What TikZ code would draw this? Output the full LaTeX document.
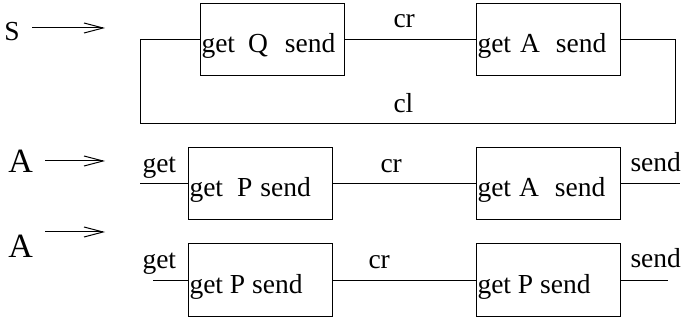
\documentclass[tikz,border=0pt]{standalone}
\usepackage{fontspec}
\setmainfont{Liberation Serif}
\usetikzlibrary{arrows.meta}
\begin{document}
\begin{tikzpicture}[x=1pt,y=-1pt,line width=1pt,
  procbox/.style={draw,rectangle,minimum width=144pt,minimum height=72pt,inner sep=0pt},
  txt/.style={inner sep=0pt,anchor=base west,font=\fontsize{27.5}{32}\selectfont},
  big/.style={inner sep=0pt,anchor=base west,font=\fontsize{34}{40}\selectfont},
  inarrow/.style={-{Straight Barb[length=19pt,width=10pt]}}]
\useasboundingbox (0,0) rectangle (682,320);
% Row 1
\node[txt] (S) at (4,41) {S};
\coordinate (s0) at (32,28);
\coordinate (s1) at (105,28);
\draw[inarrow] (s0) -- (s1);
\node[procbox] (q) at (272,40) {};
\node[procbox] (a1) at (548,40) {};
\node[txt] (qt) at (201,53) {get\hspace{13pt}Q\hspace{17pt}send};
\node[txt] (a1t) at (477,53) {get\hspace{9pt}A\hspace{16pt}send};
\node[txt] (cr1) at (393,28) {cr};
\node[txt] (cl) at (393,113) {cl};
\coordinate (l1) at (140,40);
\coordinate (l2) at (140,124);
\coordinate (r1) at (675,124);
\coordinate (r2) at (675,40);
\draw (q.east) -- (a1.west);
\draw (q.west) -- (l1) -- (l2) -- (r1) -- (r2) -- (a1.east);
% Row 2
\node[big] (A2) at (8,173) {A};
\coordinate (a2s) at (45,161);
\coordinate (a2e) at (105,161);
\draw[inarrow] (a2s) -- (a2e);
\node[procbox] (p2) at (260,184) {};
\node[procbox] (a2) at (548,184) {};
\node[txt] (p2t) at (189,197) {get\hspace{14pt}P\hspace{8pt}send};
\node[txt] (a2t) at (477,197) {get\hspace{8pt}A\hspace{16pt}send};
\node[txt] (get2) at (142,173) {get};
\node[txt] (cr2) at (380,173) {cr};
\node[txt] (send2) at (630,172) {send};
\coordinate (in2) at (140,184);
\coordinate (out2) at (680,184);
\draw (in2) -- (p2.west);
\draw (p2.east) -- (a2.west);
\draw (a2.east) -- (out2);
% Row 3
\node[big] (A3) at (8,258) {A};
\coordinate (a3s) at (45,232);
\coordinate (a3e) at (105,232);
\draw[inarrow] (a3s) -- (a3e);
\node[procbox] (p3) at (260,280) {};
\node[procbox] (p4) at (548,280) {};
\node[txt] (p3t) at (189,293) {get P send};
\node[txt] (p4t) at (477,293) {get P send};
\node[txt] (get3) at (142,269) {get};
\node[txt] (cr3) at (368,268) {cr};
\node[txt] (send3) at (630,267) {send};
\coordinate (in3) at (153,280);
\coordinate (out3) at (668,280);
\draw (in3) -- (p3.west);
\draw (p3.east) -- (p4.west);
\draw (p4.east) -- (out3);
\end{tikzpicture}
\end{document}
